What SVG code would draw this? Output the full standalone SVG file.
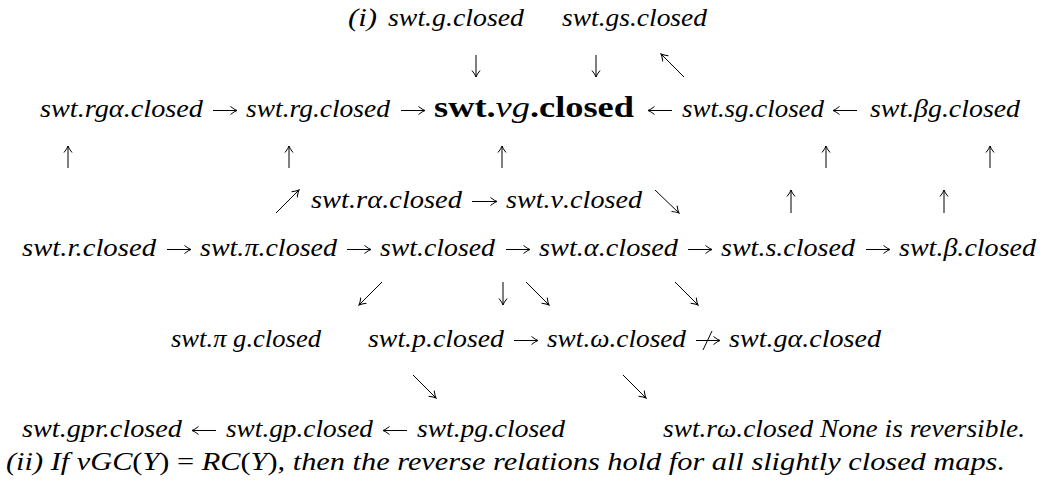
<svg xmlns="http://www.w3.org/2000/svg" width="1049" height="488" viewBox="0 0 1049 488">
<defs>
<marker id="ah" markerWidth="10" markerHeight="10" refX="0" refY="0" viewBox="-8 -5 10 10" orient="auto" markerUnits="userSpaceOnUse">
<path d="M-6.5,-4 Q-2.5,-0.8 0,0 Q-2.5,0.8 -6.5,4" fill="none" stroke="#000" stroke-width="1"/>
</marker>
</defs>
<style>
text{font-family:"Liberation Serif","DejaVu Serif",serif;font-style:italic;font-size:25px;fill:#000}
.bold{font-size:30px}
.b{font-weight:bold;font-style:normal}
.i{font-style:italic;font-weight:normal}
.up{font-style:normal}
.c line,.c path{stroke:#000;stroke-width:1;fill:none}
.c .a{marker-end:url(#ah)}
</style>
<rect width="1049" height="488" fill="#fff"/>
<g id="label-i"><text x="348" y="26" textLength="29" lengthAdjust="spacingAndGlyphs">(i)</text></g>
<g id="n-g"><text x="388" y="26" textLength="136" lengthAdjust="spacingAndGlyphs">swt.g.closed</text></g>
<g id="n-gs"><text x="562" y="26" textLength="145" lengthAdjust="spacingAndGlyphs">swt.gs.closed</text></g>
<g id="n-rga"><text x="40" y="117" textLength="163" lengthAdjust="spacingAndGlyphs">swt.rgα.closed</text></g>
<g id="n-rg"><text x="246" y="117" textLength="144" lengthAdjust="spacingAndGlyphs">swt.rg.closed</text></g>
<g id="n-vg"><text class="bold" x="434" y="117" textLength="200" lengthAdjust="spacingAndGlyphs"><tspan class="b">swt.</tspan><tspan class="i">νg</tspan><tspan class="b">.closed</tspan></text></g>
<g id="n-sg"><text x="682" y="117" textLength="142" lengthAdjust="spacingAndGlyphs">swt.sg.closed</text></g>
<g id="n-bg"><text x="870" y="117" textLength="150" lengthAdjust="spacingAndGlyphs">swt.βg.closed</text></g>
<g id="n-ra"><text x="311" y="208" textLength="151" lengthAdjust="spacingAndGlyphs">swt.rα.closed</text></g>
<g id="n-v"><text x="506" y="208" textLength="136" lengthAdjust="spacingAndGlyphs">swt.ν.closed</text></g>
<g id="n-r"><text x="22" y="256" textLength="134" lengthAdjust="spacingAndGlyphs">swt.r.closed</text></g>
<g id="n-pi"><text x="200" y="256" textLength="137" lengthAdjust="spacingAndGlyphs">swt.π.closed</text></g>
<g id="n-closed"><text x="380" y="256" textLength="115" lengthAdjust="spacingAndGlyphs">swt.closed</text></g>
<g id="n-a"><text x="539" y="256" textLength="139" lengthAdjust="spacingAndGlyphs">swt.α.closed</text></g>
<g id="n-s"><text x="721" y="256" textLength="134" lengthAdjust="spacingAndGlyphs">swt.s.closed</text></g>
<g id="n-b"><text x="899" y="256" textLength="137" lengthAdjust="spacingAndGlyphs">swt.β.closed</text></g>
<g id="n-pig"><text x="171" y="347" textLength="150" lengthAdjust="spacingAndGlyphs">swt.π g.closed</text></g>
<g id="n-p"><text x="368" y="347" textLength="136" lengthAdjust="spacingAndGlyphs">swt.p.closed</text></g>
<g id="n-w"><text x="547" y="347" textLength="139" lengthAdjust="spacingAndGlyphs">swt.ω.closed</text></g>
<g id="n-ga"><text x="729" y="347" textLength="152" lengthAdjust="spacingAndGlyphs">swt.gα.closed</text></g>
<g id="n-gpr"><text x="22" y="437" textLength="160" lengthAdjust="spacingAndGlyphs">swt.gpr.closed</text></g>
<g id="n-gp"><text x="226" y="437" textLength="147" lengthAdjust="spacingAndGlyphs">swt.gp.closed</text></g>
<g id="n-pg"><text x="417" y="437" textLength="148" lengthAdjust="spacingAndGlyphs">swt.pg.closed</text></g>
<g id="n-rw"><text x="663" y="437" textLength="362" lengthAdjust="spacingAndGlyphs">swt.rω.closed None is reversible.</text></g>
<g id="note-ii"><text x="6" y="470" textLength="999" lengthAdjust="spacingAndGlyphs">(ii) If νGC<tspan class="up">(</tspan>Y<tspan class="up">) = </tspan>RC<tspan class="up">(</tspan>Y<tspan class="up">)</tspan>, then the reverse relations hold for all slightly closed maps.</text></g>
<g id="connectors" class="c">
<line class="a" x1="476" y1="55" x2="476" y2="77"/>
<line class="a" x1="596" y1="55" x2="596" y2="77"/>
<line class="a" x1="684" y1="77" x2="661" y2="54"/>
<line class="a" x1="213" y1="110.5" x2="237" y2="110.5"/>
<line class="a" x1="401" y1="110.5" x2="425" y2="110.5"/>
<line class="a" x1="672" y1="110.5" x2="648" y2="110.5"/>
<line class="a" x1="857" y1="110.5" x2="833" y2="110.5"/>
<line class="a" x1="68" y1="168" x2="68" y2="146"/>
<line class="a" x1="289" y1="168" x2="289" y2="146"/>
<line class="a" x1="502" y1="168" x2="502" y2="146"/>
<line class="a" x1="826" y1="168" x2="826" y2="146"/>
<line class="a" x1="990" y1="168" x2="990" y2="146"/>
<line class="a" x1="276" y1="213" x2="299" y2="190"/>
<line class="a" x1="472" y1="201.5" x2="497" y2="201.5"/>
<line class="a" x1="655" y1="190" x2="679" y2="213"/>
<line class="a" x1="791" y1="213" x2="791" y2="190"/>
<line class="a" x1="944" y1="213" x2="944" y2="190"/>
<line class="a" x1="167" y1="249.5" x2="191" y2="249.5"/>
<line class="a" x1="347" y1="249.5" x2="371" y2="249.5"/>
<line class="a" x1="506" y1="249.5" x2="530" y2="249.5"/>
<line class="a" x1="688" y1="249.5" x2="712" y2="249.5"/>
<line class="a" x1="866" y1="249.5" x2="890" y2="249.5"/>
<line class="a" x1="382" y1="282" x2="359" y2="305"/>
<line class="a" x1="503" y1="282" x2="503" y2="305"/>
<line class="a" x1="526" y1="282" x2="549" y2="305"/>
<line class="a" x1="675" y1="282" x2="698" y2="305"/>
<line class="a" x1="514" y1="340.5" x2="538" y2="340.5"/>
<line class="a" x1="696" y1="340.5" x2="720" y2="340.5"/>
<path d="M703,350 L712,331"/>
<line class="a" x1="413" y1="375" x2="436" y2="398"/>
<line class="a" x1="623" y1="375" x2="646" y2="398"/>
<line class="a" x1="216" y1="430.5" x2="192" y2="430.5"/>
<line class="a" x1="407" y1="430.5" x2="383" y2="430.5"/>
</g>
</svg>
